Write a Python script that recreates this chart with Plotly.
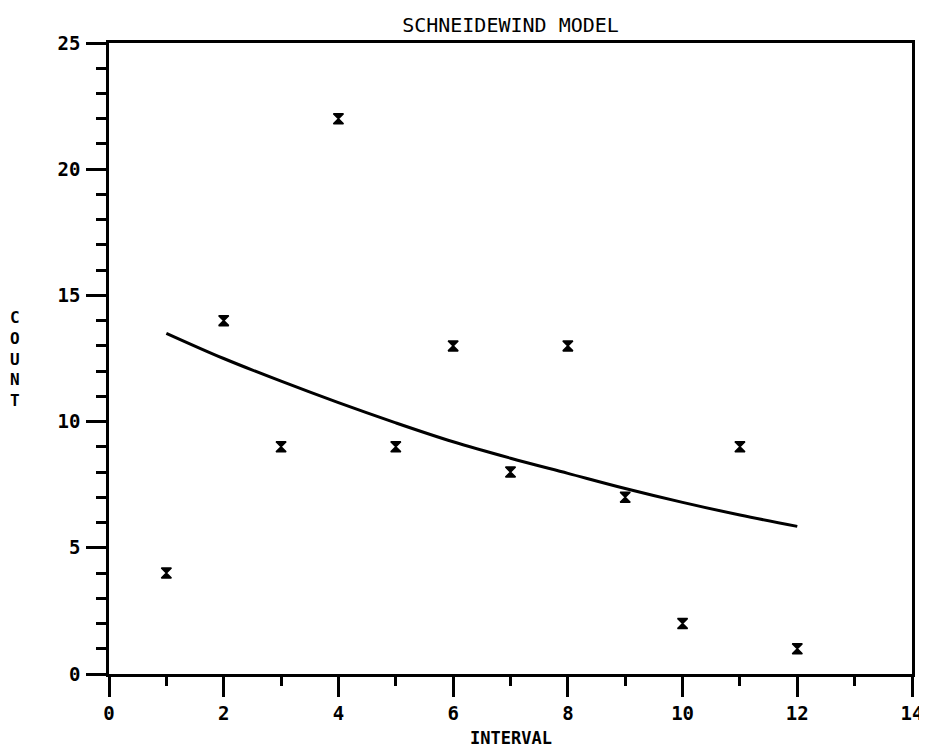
import plotly.graph_objects as go

intervals = [1, 2, 3, 4, 5, 6, 7, 8, 9, 10, 11, 12]
observed_counts = [4, 14, 9, 22, 9, 13, 8, 13, 7, 2, 9, 1]
model_counts = [13.5, 12.5, 11.6, 10.75, 9.95, 9.2, 8.55, 7.95, 7.35, 6.8, 6.3, 5.85]

x_ticks = [0, 2, 4, 6, 8, 10, 12, 14]
y_ticks = [0, 5, 10, 15, 20, 25]

FONT = "DejaVu Sans Mono"

# page body adds an 8px offset, so the figure is sized to compensate
W, H = 919, 740
L, R, T, B = 101, 15, 35, 74
plot_h = H - T - B

fig = go.Figure()
fig.add_trace(go.Scatter(
    x=intervals, y=model_counts, mode="lines",
    line=dict(color="black", width=3, shape="spline"),
    showlegend=False, hoverinfo="skip",
))
fig.add_trace(go.Scatter(
    x=intervals, y=observed_counts, mode="markers",
    marker=dict(symbol="hourglass", size=10, color="black",
                line=dict(color="black", width=1.5)),
    showlegend=False,
))

axis_common = dict(
    showgrid=False, zeroline=False, showline=True, linecolor="black",
    linewidth=2.5, mirror=True, ticks="outside", ticklen=20, tickwidth=2.5,
    tickcolor="black", automargin=False, ticklabeloverflow="allow",
    tickfont=dict(family=FONT, size=19, color="black", weight="bold"),
)

fig.update_xaxes(
    range=[0, 14], tickvals=x_ticks, ticktext=[str(v) for v in x_ticks],
    minor=dict(dtick=1, ticklen=9, tickwidth=2.5, ticks="outside", tickcolor="black"),
    ticklabelstandoff=0,
    **axis_common,
)
fig.update_yaxes(
    range=[0, 25], tickvals=y_ticks, ticktext=[str(v) for v in y_ticks],
    minor=dict(dtick=1, ticklen=10, tickwidth=2.5, ticks="outside", tickcolor="black"),
    ticklabelstandoff=2,
    **axis_common,
)

fig.add_annotation(
    text="C<br>O<br>U<br>N<br>T", xref="paper", yref="paper",
    x=-0.117, y=0.5, xanchor="center", yanchor="middle", showarrow=False,
    font=dict(family=FONT, size=16, color="black", weight="bold"),
)
fig.add_annotation(
    text="INTERVAL", xref="paper", yref="paper",
    x=0.5, y=-64 / plot_h, xanchor="center", yanchor="middle", showarrow=False,
    font=dict(family=FONT, size=17, color="black", weight="bold"),
)

fig.update_layout(
    width=W, height=H,
    margin=dict(l=L, r=R, t=T, b=B),
    paper_bgcolor="white", plot_bgcolor="white",
    title=dict(text="SCHNEIDEWIND MODEL", x=0.5, xref="paper", xanchor="center",
               y=1 - 17 / H, yanchor="middle", automargin=False,
               font=dict(family=FONT, size=20, color="black")),
)

fig.write_html("out.html")
